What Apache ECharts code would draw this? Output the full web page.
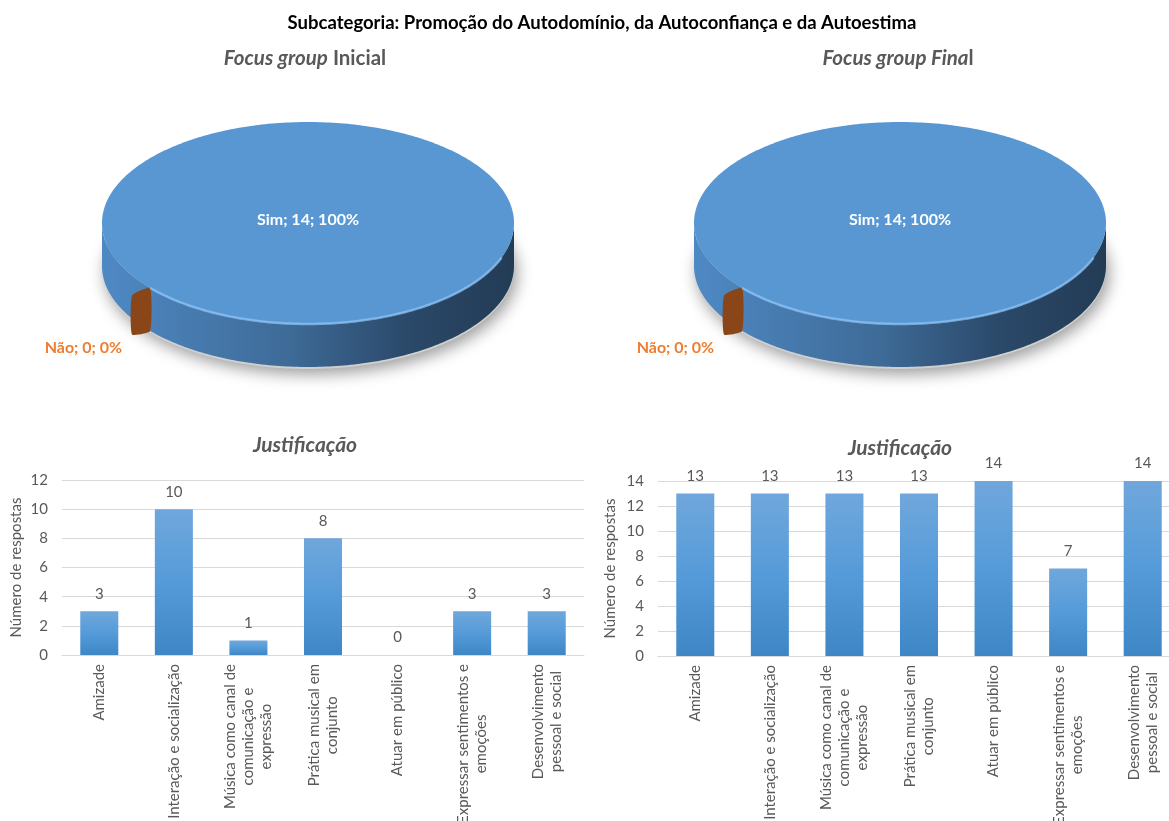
<!DOCTYPE html>
<html>
<head>
<meta charset="utf-8">
<script src="https://cdn.jsdelivr.net/npm/echarts@6/dist/echarts.min.js"></script>
<style>
  html, body { margin: 0; padding: 0; background: #ffffff; }
  #chart { width: 1169px; height: 821px; }
</style>
</head>
<body>
<div id="chart"></div>
<script>
// ---- data ----
const pieLabels = ['Sim', 'Não'];
const pieInitial = [14, 0];
const pieFinal = [14, 0];

const categories = [
  'Amizade',
  'Interação e socialização',
  'Música como canal de\ncomunicação e\nexpressão',
  'Prática musical em\nconjunto',
  'Atuar em público',
  'Expressar sentimentos e\nemoções',
  'Desenvolvimento\npessoal e social'
];
const initialCounts = [3, 10, 1, 8, 0, 3, 3];
const finalCounts = [13, 13, 13, 13, 14, 7, 14];

const initialAxisMax = 12;
const finalAxisMax = 14;
const axisStep = 2;

// ---- styling ----
const FONT = 'Lato, "Open Sans", sans-serif';
const GREY = '#595959';
const GRID_LINE = '#d9d9d9';
const SLICE_COLORS = ['#5897d2', '#8a4619'];
const LABEL_COLORS = ['#ffffff', '#ed7d31'];

// 3D pie geometry (pixels)
const PIE_RX = 206;
const PIE_RY = 101;
const PIE_DEPTH = 43;
const PIE_START = 140; // degrees, clockwise from 3 o'clock

function pieSeries(values, cx, cy) {
  const total = values.reduce((a, b) => a + b, 0);
  const starts = [];
  let acc = 0;
  values.forEach(v => { starts.push(PIE_START + acc / total * 360); acc += v; });
  const rad = a => a * Math.PI / 180;
  const pt = (a, dy) => [cx + PIE_RX * Math.cos(rad(a)), cy + PIE_RY * Math.sin(rad(a)) + (dy || 0)];
  const arc = (a0, a1, dy) => {
    const pts = [];
    const n = Math.max(2, Math.ceil(Math.abs(a1 - a0)));
    for (let k = 0; k <= n; k++) pts.push(pt(a0 + (a1 - a0) * k / n, dy));
    return pts;
  };
  const wallFill = {
    type: 'linear', x: cx - PIE_RX, y: 0, x2: cx + PIE_RX, y2: 0, global: true,
    colorStops: [
      { offset: 0, color: '#4f89c4' },
      { offset: 0.45, color: '#3e6b98' },
      { offset: 0.75, color: '#2a4868' },
      { offset: 1, color: '#233c56' }
    ]
  };

  return {
    type: 'custom',
    coordinateSystem: 'none',
    silent: true,
    data: values.map((v, i) => ({ name: pieLabels[i], value: v })),
    renderItem: function (params) {
      const i = params.dataIndex;
      const v = values[i];
      const a0 = starts[i];
      const a1 = a0 + v / total * 360;
      const children = [];

      if (i === 0) {
        // soft drop shadow under the disc
        children.push({
          type: 'polygon', z2: 0,
          shape: { points: arc(0, 360, PIE_DEPTH + 2) },
          style: { fill: '#cfcfcf', shadowBlur: 16, shadowColor: 'rgba(0,0,0,0.4)', shadowOffsetX: 3, shadowOffsetY: 5 }
        });
      }

      if (v > 0) {
        // side wall: only the front half (angles 0..180) is visible
        const runs = [];
        let cur = null;
        const steps = Math.ceil(a1 - a0);
        for (let k = 0; k <= steps; k++) {
          const a = a0 + (a1 - a0) * k / steps;
          const na = ((a % 360) + 360) % 360;
          if (na >= 0 && na <= 180) {
            if (!cur) { cur = []; runs.push(cur); }
            cur.push(a);
          } else {
            cur = null;
          }
        }
        runs.forEach(run => {
          if (run.length < 2) return;
          const top = run.map(a => pt(a));
          const bottom = run.slice().reverse().map(a => pt(a, PIE_DEPTH));
          children.push({
            type: 'polygon', z2: 1,
            shape: { points: top.concat(bottom) },
            style: { fill: wallFill }
          });
        });

        // top face
        const full = v / total > 0.999;
        const topPts = full ? arc(a0, a1) : [[cx, cy]].concat(arc(a0, a1));
        children.push({
          type: 'polygon', z2: 3,
          shape: { points: topPts },
          style: { fill: SLICE_COLORS[i] }
        });
        // bevel highlight along the front rim
        children.push({
          type: 'polyline', z2: 4,
          shape: { points: arc(Math.max(a0, 360 + 20), Math.min(a1, 360 + 175)) },
          style: { stroke: 'rgba(140,195,245,0.75)', lineWidth: 2.5, fill: null }
        });

        const pct = Math.round(v / total * 100);
        let lx = cx, ly = cy - 3;
        if (!full) {
          const m = (a0 + a1) / 2;
          lx = cx + 0.6 * PIE_RX * Math.cos(rad(m));
          ly = cy + 0.6 * PIE_RY * Math.sin(rad(m));
        }
        children.push({
          type: 'text', z2: 6, x: lx, y: ly,
          style: {
            text: pieLabels[i] + '; ' + v + '; ' + pct + '%',
            fill: LABEL_COLORS[i], font: 'bold 16px ' + FONT,
            align: 'center', verticalAlign: 'middle'
          }
        });
      } else {
        // an empty slice shows only its cut face on the rim
        const p = pt(a0);
        const k = 0.115;
        const o = [k * PIE_RX * Math.cos(rad(a0)), k * PIE_RY * Math.sin(rad(a0))];
        children.push({
          type: 'polygon', z2: 2,
          shape: {
            points: [
              [p[0], p[1]],
              [p[0] + o[0], p[1] + o[1]],
              [p[0] + o[0], p[1] + o[1] + PIE_DEPTH - 4],
              [p[0], p[1] + PIE_DEPTH]
            ],
            smooth: 0.15
          },
          style: { fill: SLICE_COLORS[i] }
        });
        children.push({
          type: 'text', z2: 6, x: p[0] - 28, y: p[1] + PIE_DEPTH + 17,
          style: {
            text: pieLabels[i] + '; ' + v + '; 0%',
            fill: LABEL_COLORS[i], font: 'bold 16px ' + FONT,
            align: 'right', verticalAlign: 'middle'
          }
        });
      }
      return { type: 'group', children: children };
    }
  };
}

const barFill = {
  type: 'linear', x: 0, y: 0, x2: 0, y2: 1,
  colorStops: [
    { offset: 0, color: '#70a7dc' },
    { offset: 0.5, color: '#559bd9' },
    { offset: 1, color: '#3f86c6' }
  ]
};

function categoryAxis(gridIndex) {
  return {
    type: 'category', gridIndex: gridIndex, data: categories,
    axisTick: { show: false },
    axisLine: { lineStyle: { color: GRID_LINE, width: 1 } },
    axisLabel: {
      interval: 0, rotate: 90, margin: 9,
      color: GREY, fontSize: 15, fontFamily: FONT, lineHeight: 18,
      formatter: v => v.split('\n').map(s => '{c|' + s + '}').join('\n'),
      rich: { c: { align: 'center', color: GREY, fontSize: 15, fontFamily: FONT, lineHeight: 18 } }
    }
  };
}

function valueAxis(gridIndex, max, nameGap) {
  return {
    type: 'value', gridIndex: gridIndex, min: 0, max: max, interval: axisStep,
    name: 'Número de respostas', nameLocation: 'middle', nameRotate: 90, nameGap: nameGap,
    nameTextStyle: { color: GREY, fontSize: 15, fontFamily: FONT },
    axisLine: { show: false }, axisTick: { show: false },
    axisLabel: { color: GREY, fontSize: 15, fontFamily: FONT, margin: 14 },
    splitLine: { lineStyle: { color: GRID_LINE, width: 1 } }
  };
}

function barSeries(idx, values) {
  return {
    type: 'bar', xAxisIndex: idx, yAxisIndex: idx, data: values,
    barWidth: '51%',
    itemStyle: { color: barFill },
    label: { show: true, position: 'top', distance: 10, color: GREY, fontSize: 15, fontFamily: FONT }
  };
}

const subTitleRich = {
  i: { fontStyle: 'italic', fontWeight: 'bold', fontSize: 20.5, color: GREY, fontFamily: FONT },
  n: { fontWeight: 'bold', fontSize: 20.5, color: GREY, fontFamily: FONT }
};
const sectionTitle = { fontStyle: 'italic', fontWeight: 'bold', fontSize: 21, color: GREY, fontFamily: FONT };

const option = {
  backgroundColor: '#ffffff',
  animation: false,
  title: [
    {
      text: 'Subcategoria: Promoção do Autodomínio, da Autoconfiança e da Autoestima',
      left: 597, top: 9, textAlign: 'center',
      textStyle: { fontSize: 18.5, fontWeight: 'bold', color: '#000000', fontFamily: FONT }
    },
    { text: '{i|Focus group} {n|Inicial}', left: 300, top: 43, textAlign: 'center', textStyle: { rich: subTitleRich } },
    { text: '{i|Focus group Fina}{n|l}', left: 893, top: 43, textAlign: 'center', textStyle: { rich: subTitleRich } },
    { text: 'Justificação', left: 300, top: 430, textAlign: 'center', textStyle: sectionTitle },
    { text: 'Justificação', left: 895, top: 433, textAlign: 'center', textStyle: sectionTitle }
  ],
  grid: [
    { left: 62, right: 585, top: 480, bottom: 166, outerBoundsMode: 'none', containLabel: false },
    { left: 658, right: -11, top: 481, bottom: 165, outerBoundsMode: 'none', containLabel: false }
  ],
  xAxis: [categoryAxis(0), categoryAxis(1)],
  yAxis: [valueAxis(0, initialAxisMax, 38), valueAxis(1, finalAxisMax, 40)],
  series: [
    pieSeries(pieInitial, 308, 223),
    pieSeries(pieFinal, 900, 223),
    barSeries(0, initialCounts),
    barSeries(1, finalCounts)
  ]
};

const chart = echarts.init(document.getElementById('chart'), null, { renderer: 'canvas' });
chart.setOption(option);
</script>
</body>
</html>
